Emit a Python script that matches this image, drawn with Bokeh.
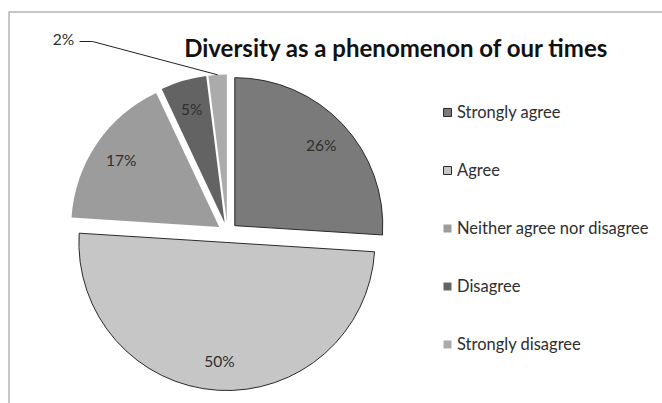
import math
from bokeh.plotting import figure
from bokeh.models import Range1d, ColumnDataSource, Legend, LegendItem, Label
from bokeh.core.properties import value
from bokeh.embed import file_html
from bokeh.resources import INLINE

# ---- data ----
categories = ["Strongly agree", "Agree", "Neither agree nor disagree", "Disagree", "Strongly disagree"]
values = [26, 50, 17, 5, 2]
labels = ["26%", "50%", "17%", "5%", "2%"]
colors = ["#7a7a7a", "#c6c6c6", "#9c9c9c", "#636363", "#ababab"]
outline_alpha = [1.0, 1.0, 0.0, 0.0, 0.0]
title_text = "Diversity as a phenomenon of our times"

# ---- layout ----
W, H = 662, 403
cx, cy = 227, H - 232      # pie centre (data units = pixels, y up)
R = 148                    # radius
EXPLODE = 10               # explode distance
FONT = "Lato"

total = float(sum(values))
xs, ys, starts, ends, lx, ly, mids = [], [], [], [], [], [], []
cum = 0.0
for v in values:
    a1 = cum / total * 360.0
    a2 = (cum + v) / total * 360.0
    cum += v
    mid = math.radians((a1 + a2) / 2.0)
    dx, dy = math.sin(mid), math.cos(mid)
    xs.append(cx + EXPLODE * dx)
    ys.append(cy + EXPLODE * dy)
    starts.append(math.radians(90 - a2))
    ends.append(math.radians(90 - a1))
    lx.append(cx + (EXPLODE + 0.8 * R) * dx)
    ly.append(cy + (EXPLODE + 0.8 * R) * dy)
    mids.append((dx, dy))

src = ColumnDataSource(dict(x=xs, y=ys, start=starts, end=ends, color=colors,
                            la=outline_alpha, cat=categories))

p = figure(width=W, height=H, x_range=Range1d(0, W), y_range=Range1d(0, H),
           output_backend="svg", toolbar_location=None, min_border=0,
           background_fill_color="#ffffff", border_fill_color="#ffffff")
p.axis.visible = False
p.grid.visible = False
p.outline_line_color = None

# chart frame (only left and top edges visible in the window)
p.line([8.5, 8.5, W + 20], [-20, H - 11.5, H - 11.5], line_color="#b4b4b4", line_width=1.5)

r = p.wedge(x="x", y="y", radius=R, start_angle="start", end_angle="end",
            direction="anticlock", fill_color="color", line_color="#2a2a2a",
            line_alpha="la", line_width=1, source=src)

# inside data labels (all but the smallest slice)
in_idx = [i for i in range(len(values)) if values[i] >= 5]
p.text(x=[lx[i] for i in in_idx], y=[ly[i] for i in in_idx], text=[labels[i] for i in in_idx],
       text_align="center", text_baseline="middle", text_font_size="15.5px",
       text_color="#2e2e2e", text_font=value(FONT))

# smallest slice: outside label with leader line
i = len(values) - 1
dx, dy = mids[i]
ex, ey = xs[i] + R * dx, ys[i] + R * dy
p.line([ex, 92, 79], [ey, H - 41, H - 41], line_color="#222222", line_width=1)
p.add_layout(Label(x=63, y=H - 38, text=labels[i], text_align="center", text_baseline="middle",
                   text_font_size="15.5px", text_color="#2e2e2e", text_font=FONT))

# title
p.add_layout(Label(x=396, y=H - 47, text=title_text, text_align="center", text_baseline="middle",
                   text_font_size="24px", text_font_style="bold", text_color="#111111",
                   text_font=FONT))

legend = Legend(items=[LegendItem(label=categories[k], renderers=[r], index=k) for k in range(len(values))],
                location=(442, H - 354), orientation="vertical",
                glyph_width=10, glyph_height=10, label_height=20, label_standoff=5,
                spacing=38, padding=0, margin=0, border_line_color=None,
                background_fill_alpha=0, label_text_font=FONT, label_text_font_size="16.5px",
                label_text_color="#2e2e2e")
p.add_layout(legend, "center")

open("out.html", "w").write(file_html(p, INLINE))
